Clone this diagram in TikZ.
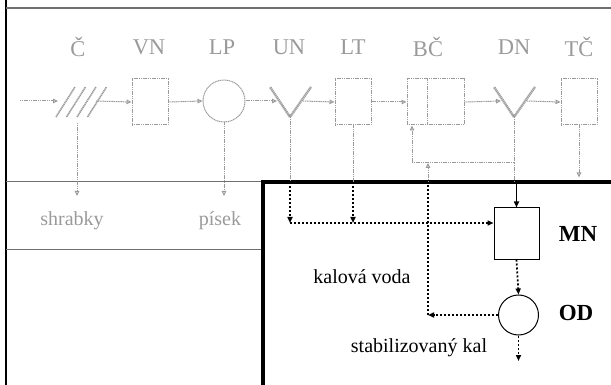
\documentclass[tikz,border=0pt]{standalone}
\usepackage{fontspec}
\setmainfont{Liberation Serif}
\usetikzlibrary{arrows.meta, positioning, calc}
\definecolor{ghost}{HTML}{9A9A9A}
\definecolor{rule}{HTML}{707070}

\begin{document}
\begin{tikzpicture}[x=1pt, y=-1pt,
  >={Triangle[length=6pt, width=5pt]},
  ghost/.style={draw=ghost, line width=1pt, dash pattern=on 1.2pt off 0.6pt},
  gbox/.style={ghost, minimum width=36pt, minimum height=46pt, inner sep=0pt},
  gcirc/.style={ghost, circle, minimum size=42pt, inner sep=0pt},
  garr/.style={ghost, ->, >={Triangle[open, length=5pt, width=4.5pt]}},
  gy/.style={ghost, line width=2.4pt},
  glabel/.style={font=\fontsize{22.5}{24}\selectfont, text=ghost},
  nbox/.style={draw, line width=1pt, minimum width=45pt, minimum height=51pt, inner sep=0pt},
  ncirc/.style={draw, line width=1pt, circle, minimum size=40pt, inner sep=0pt},
  dotline/.style={line width=1.8pt, dash pattern=on 2pt off 2pt},
  dotarr/.style={dotline, ->},
  txt/.style={font=\fontsize{20}{22}\selectfont},
  big/.style={font=\fontsize{23}{25}\selectfont\bfseries},
]
\useasboundingbox (0,0) rectangle (611,385);

% Frame
\draw[line width=2.5pt] (6,0) -- (6,385);
\draw[rule, line width=1.2pt] (6,8) -- (611,8);
\draw[rule, line width=1pt] (6,182) -- (263,182);
\draw[rule, line width=1pt] (6,249) -- (263,249);

% === Stage labels ===
\foreach \x/\t/\n in {78/Č/c, 149/VN/vn, 222/LP/lp, 289/UN/un,
                      353/LT/lt, 428/BČ/bc, 514/DN/dn, 579/TČ/tc}
  \node[glabel] (lab-\n) at (\x,47) {\t};

% === Line of the plant ===
\coordinate (in) at (20,101);
\coordinate (c) at (77,101);
\coordinate (c-w) at (58,101);
\coordinate (c-e) at (96,101);
\node[gbox] (vn) at (150,102) {};
\node[gcirc] (lp) at (224,101) {};
\coordinate (un) at (290,117);
\coordinate (un-w) at (277,101);
\coordinate (un-e) at (303,101);
\node[gbox] (lt) at (353,102) {};
\node[gbox, minimum width=57pt] (bc) at (435.5,102) {};
\coordinate (dn) at (514,117);
\coordinate (dn-w) at (501,101);
\coordinate (dn-e) at (527,101);
\node[gbox] (tc) at (579,102) {};

% screen bars and separators
\foreach \i in {0,...,3}
  \draw[ghost, line width=1.6pt] ($(c)+(-21+\i*10.5,16)$) -- ++(19,-30);
\draw[ghost] (bc.north west) ++(21,0) -- ++(0,46);
\draw[gy] (un) -- ++(-20,-30) (un) -- ++(21,-30);
\draw[gy] (dn) -- ++(-20,-30) (dn) -- ++(21,-30);

% main flow
\draw[garr] (in) -- (c-w);
\draw[garr] (c-e) -- (vn.west);
\draw[garr] (vn.east) -- (lp.west);
\draw[garr] (lp.east) -- (un-w);
\draw[garr] (un-e) -- (lt.west);
\draw[garr] (lt.east) -- (bc.west);
\draw[garr] (bc.east) -- (dn-w);
\draw[garr] (dn-e) -- (tc.west);

% === Outflows of the upper part ===
\node[glabel, font=\fontsize{20}{22}\selectfont] (shr) at (72,221) {shrabky};
\node[glabel, font=\fontsize{20}{22}\selectfont] (pis) at (220,221) {písek};
\coordinate (c-s) at (77,123);
\coordinate (shr-in) at (77,196);
\coordinate (pis-in) at (224,196);
\draw[garr] (c-s) -- (shr-in);
\draw[garr] (lp.south) -- (pis-in);
\draw[garr] (tc.south) -- ++(0,52);

% feedback to BČ
\coordinate (fb-r) at (514,163);
\coordinate (fb-m) at (428,163);
\coordinate (fb-l) at (412,163);
\draw[ghost] (dn) -- (fb-r);
\draw[garr] (fb-r) -- (fb-l) -- (fb-l |- bc.south);

% === Sludge part ===
\draw[line width=4pt] (263,385) -- (263,182) -- (611,182);

\node[nbox] (mn) at (516.5,233.5) {};
\node[ncirc] (od) at (518.5,315) {};
\node[big] (mn-lab) at (578,234) {MN};
\node[big] (od-lab) at (576,313) {OD};
\node[txt] (kv) at (362,277) {kalová voda};
\node[txt] (sk) at (419,348) {stabilizovaný kal};

\coordinate (un-b) at (290,182);
\coordinate (un-m) at (290,223);
\coordinate (lt-b) at (353,182);
\coordinate (lt-m) at (353,223);
\coordinate (dn-b) at (516.5,182);
\coordinate (kv-c) at (428,315);
\coordinate (kv-b) at (428,182);
\coordinate (out) at (518.5,361);

\draw[ghost] (un) -- (un-b);
\draw[ghost] (lt.south) -- (lt-b);
\draw[dotarr] (un-b) -- (un-m);
\draw[dotarr] (lt-b) -- (lt-m);
\draw[dotarr] (un-m) -- (un-m -| mn.west);
\draw[ghost] (fb-r) -- (fb-r |- dn-b);
\draw[->, line width=1.6pt] (dn-b) -- (mn.north);
\draw[dotarr] (mn.south) -- (od.north);
\draw[dotarr] (od.west) -- (kv-c);
\draw[dotline] (kv-c) -- (kv-b);
\draw[garr] (kv-b) -- (fb-m);
\draw[dotarr] (od.south) -- (out);

\end{tikzpicture}
\end{document}
